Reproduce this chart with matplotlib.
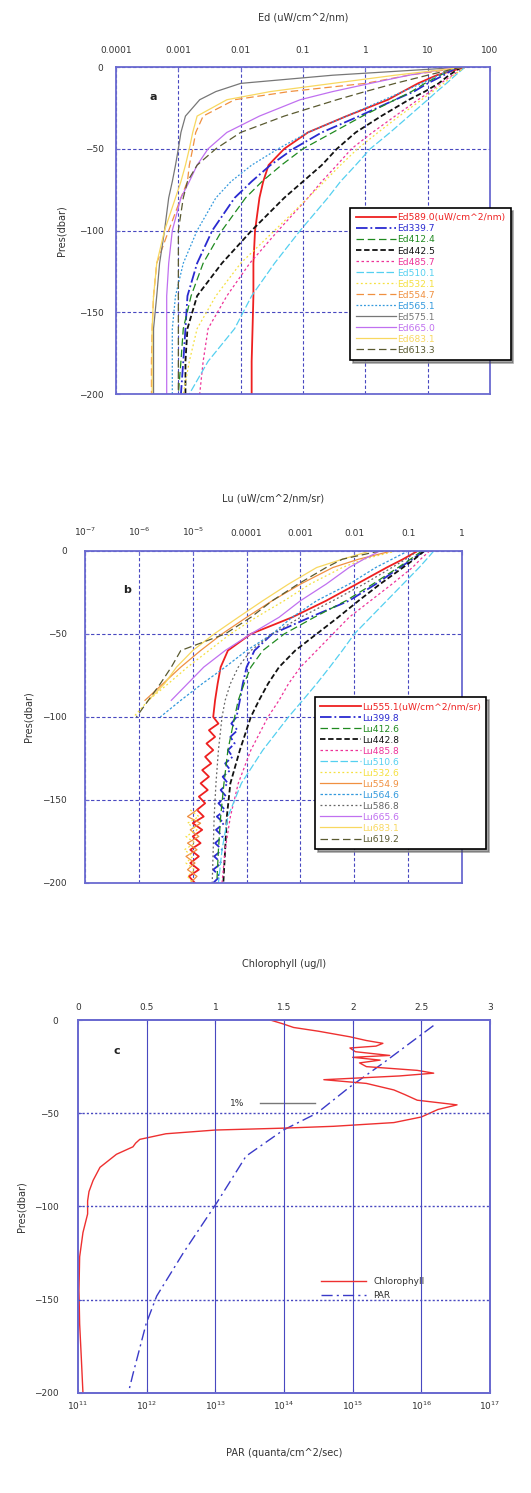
import numpy as np
import matplotlib
matplotlib.use("Agg")
import matplotlib.pyplot as plt
from matplotlib.ticker import FixedLocator, FixedFormatter, NullLocator

nan = np.nan

# ---------------- panel a : Ed profiles ----------------
ed_depth = [0, 5, 10, 15, 20, 30, 40, 50, 60, 70, 80, 100, 120, 140, 160, 180, 200]
ed_labels = ["Ed589.0(uW/cm^2/nm)", "Ed339.7", "Ed412.4", "Ed442.5", "Ed485.7",
             "Ed510.1", "Ed532.1", "Ed554.7", "Ed565.1", "Ed575.1",
             "Ed665.0", "Ed683.1", "Ed613.3"]
ed_589 = [40, 14, 7, 4, 2.3, 0.5, 0.12, 0.05, 0.028, 0.023, 0.02, 0.017, 0.016, 0.016, 0.0155, 0.015, 0.015]
ed_339 = [30, 18, 10, 6, 3, 0.8, 0.2, 0.07, 0.03, 0.015, 0.008, 0.0035, 0.002, 0.0014, 0.0013, 0.0012, 0.0011]
ed_412 = [28, 16, 9, 5.5, 3, 0.9, 0.3, 0.1, 0.045, 0.022, 0.012, 0.005, 0.0025, 0.0016, 0.0012, 0.0011, 0.001]
ed_442 = [35, 22, 15, 9, 5, 1.8, 0.7, 0.35, 0.2, 0.1, 0.05, 0.015, 0.005, 0.002, 0.0014, 0.0013, 0.0013]
ed_485 = [40, 25, 16, 11, 7, 3, 1.3, 0.6, 0.35, 0.2, 0.12, 0.04, 0.014, 0.006, 0.003, 0.0025, 0.0022]
ed_510 = [40, 28, 20, 14, 10, 5, 2.5, 1.2, 0.7, 0.4, 0.25, 0.09, 0.035, 0.015, 0.008, 0.003, 0.0015]
ed_532 = [40, 26, 18, 12, 8, 3.5, 1.6, 0.75, 0.4, 0.22, 0.12, 0.035, 0.01, 0.004, 0.002, 0.0015, 0.0012]
ed_554 = [40, 5, 1, 0.06, 0.008, 0.0025, 0.0019, 0.0017, 0.0015, 0.0014, 0.0011, 0.0007, 0.00045, 0.0004, 0.00038, 0.00037, 0.00037]
ed_565 = [30, 15, 8, 4, 2, 0.5, 0.12, 0.04, 0.015, 0.007, 0.004, 0.002, 0.0012, 0.0009, 0.0008, 0.0008, 0.0008]
ed_575 = [40, 0.3, 0.01, 0.004, 0.0022, 0.0013, 0.0011, 0.001, 0.0009, 0.0008, 0.0007, 0.0006, 0.0005, 0.00045, 0.0004, 0.0004, 0.0004]
ed_665 = [30, 5, 1.2, 0.3, 0.09, 0.02, 0.006, 0.003, 0.002, 0.0015, 0.0011, 0.0008, 0.0007, 0.00065, 0.00065, 0.00065, 0.00065]
ed_683 = [40, 3, 0.3, 0.03, 0.006, 0.002, 0.0017, 0.0015, 0.0013, 0.0011, 0.0009, 0.0006, 0.00045, 0.0004, 0.00038, 0.00038, 0.00038]
ed_613 = [35, 10, 3, 1, 0.35, 0.05, 0.01, 0.004, 0.002, 0.0014, 0.0012, 0.001, 0.001, 0.001, 0.001, 0.001, 0.001]

# ---------------- panel b : Lu profiles ----------------
lu_depth = [0, 5, 10, 20, 30, 40, 50, 60, 70, 80, 90, 100, 120, 140, 160, 180, 200]
lu_top_depth = [0, 5, 10, 20, 30, 40, 50, 60, 70, 80, 90]
lu_deep_depth = [100, 104, 108, 112, 116, 120, 124, 128, 132, 136, 140, 144, 148,
                 152, 156, 160, 164, 168, 172, 176, 180, 184, 188, 192, 196, 200]
lu_bottom_depth = [156, 160, 164, 168, 172, 176, 180, 184, 188, 192, 196, 200]
lu_labels = ["Lu555.1(uW/cm^2/nm/sr)", "Lu399.8", "Lu412.6", "Lu442.8", "Lu485.8",
             "Lu510.6", "Lu532.6", "Lu554.9", "Lu564.6", "Lu586.8",
             "Lu665.6", "Lu683.1", "Lu619.2"]
lu_555_top = [0.15, 0.08, 0.04, 0.011, 0.003, 0.0007, 0.00012, 4.5e-5, 3.3e-5, 2.9e-5, 2.6e-5]
lu_555_deep = [2.4e-5, 3.0e-5, 2.0e-5, 2.6e-5, 1.8e-5, 2.4e-5, 1.7e-5, 2.2e-5, 1.5e-5, 2.0e-5,
               1.4e-5, 1.9e-5, 1.3e-5, 1.7e-5, 1.2e-5, 1.6e-5, 1.0e-5, 1.5e-5, 1.0e-5, 1.4e-5,
               9e-6, 1.3e-5, 9e-6, 1.3e-5, 8.5e-6, 1.1e-5]
lu_399_top = [0.2, 0.12, 0.07, 0.025, 0.008, 0.0015, 0.0003, 0.00014, 0.0001, 8.5e-5, 7.5e-5]
lu_399_deep = [6.5e-5, 5.2e-5, 6.8e-5, 5.0e-5, 6.0e-5, 4.5e-5, 5.5e-5, 4.0e-5, 5.0e-5, 3.6e-5,
               4.5e-5, 3.3e-5, 4.2e-5, 3.0e-5, 4.0e-5, 2.8e-5, 3.8e-5, 2.7e-5, 3.6e-5, 2.6e-5,
               3.5e-5, 2.5e-5, 3.4e-5, 2.4e-5, 3.2e-5, 2.4e-5]
lu_412 = [0.18, 0.11, 0.065, 0.022, 0.007, 0.0018, 0.0005, 0.0002, 0.00012, 9e-5, 7e-5, 6e-5, 4.5e-5, 3.8e-5, 3.3e-5, 3e-5, 2.8e-5]
lu_442 = [0.2, 0.13, 0.08, 0.03, 0.012, 0.005, 0.002, 0.0008, 0.0004, 0.00025, 0.00017, 0.00012, 7.5e-5, 5e-5, 4.3e-5, 4e-5, 3.7e-5]
lu_485 = [0.25, 0.17, 0.12, 0.05, 0.02, 0.008, 0.004, 0.002, 0.001, 0.0006, 0.0004, 0.00025, 0.00012, 7e-5, 5e-5, 4e-5, 3.5e-5]
lu_510 = [0.3, 0.22, 0.16, 0.08, 0.04, 0.02, 0.01, 0.006, 0.0035, 0.002, 0.0011, 0.0006, 0.0002, 8e-5, 4.5e-5, 3.5e-5, 3e-5]
lu_532 = [0.06, 0.015, 0.006, 0.0015, 0.0005, 0.00015, 5e-5, 2e-5, 8e-6, 3.5e-6, 1.5e-6, 8e-7, nan, nan, nan, nan, nan]
lu_554 = [0.05, 0.012, 0.004, 0.001, 0.0003, 0.0001, 3.5e-5, 1.4e-5, 6e-6, 2.8e-6, 1.3e-6, nan, nan, nan, nan, nan, nan]
lu_564 = [0.1, 0.05, 0.025, 0.008, 0.002, 0.0007, 0.0003, 0.0001, 4e-5, 1.5e-5, 6e-6, 2.5e-6, nan, nan, nan, nan, nan]
lu_586 = [0.15, 0.09, 0.05, 0.015, 0.004, 0.001, 0.0003, 0.00012, 7e-5, 5e-5, 4e-5, 3.5e-5, 3e-5, 2.7e-5, 2.5e-5, 2.4e-5, 2.3e-5]
lu_665 = [0.03, 0.015, 0.008, 0.003, 0.001, 0.0004, 0.00012, 4e-5, 1.6e-5, 8e-6, 4e-6, nan, nan, nan, nan, nan, nan]
lu_683 = [0.02, 0.006, 0.002, 0.0006, 0.0002, 7e-5, 2.5e-5, 1e-5, 5e-6, 3e-6, 1.5e-6, nan, nan, nan, nan, nan, nan]
lu_619 = [0.03, 0.006, 0.003, 0.0009, 0.0003, 0.00012, 4e-5, 6e-6, 4e-6, 2.5e-6, 1.5e-6, 9e-7, nan, nan, nan, nan, nan]
lu_554_bottom = [1.2e-5, 8e-6, 1.4e-5, 9e-6, 1.3e-5, 8e-6, 1.2e-5, 7.5e-6, 1.1e-5, 8e-6, 1.2e-5, 9e-6]
lu_532_bottom = [9e-6, 1.3e-5, 8e-6, 1.2e-5, 7.5e-6, 1.1e-5, 7e-6, 1.0e-5, 7.5e-6, 1.1e-5, 8e-6, 1.0e-5]

# ---------------- panel c : chlorophyll and PAR ----------------
chl_depth = [0, 2, 4, 6, 9, 11, 12.5, 14, 15, 17, 19, 20, 21.5, 23, 25, 27, 28.5, 30, 32, 34,
             37.5, 40, 43, 45.5, 48, 52, 55, 57, 58, 59, 61, 64, 66, 68, 72, 79, 86, 92, 97,
             104, 114, 127, 145, 163, 181, 200]
chl = [1.40, 1.49, 1.57, 1.75, 1.98, 2.10, 2.22, 2.17, 1.98, 2.02, 2.27, 2.00, 2.20, 2.05, 2.10,
       2.47, 2.59, 2.34, 1.79, 2.10, 2.30, 2.38, 2.47, 2.76, 2.62, 2.50, 2.30, 1.86, 1.49, 1.00,
       0.64, 0.45, 0.42, 0.40, 0.28, 0.16, 0.11, 0.08, 0.07, 0.07, 0.036, 0.012, 0.007, 0.012,
       0.024, 0.036]
par_depth = [3, 23, 36, 50, 59, 73, 98, 125, 148, 163, 190, 200]
par = [1.5e16, 2.8e15, 9e14, 3e14, 9.8e13, 2.8e13, 1.05e13, 3.4e12, 1.4e12, 9.8e11, 6.3e11, 5.4e11]

frame_col = "#6a6ad0"
grid_col = "#4848c0"
text_col = "#333333"

a_colors = ["#ee2020", "#2a2ad0", "#1f8a1f", "#111111", "#ee3399", "#55d0f0", "#f5e040",
            "#f09040", "#3399dd", "#777777", "#c070f0", "#f8d860", "#5a5a30"]
a_styles = ["-", "-.", (0, (6, 3)), (0, (3, 1.5)), (0, (2, 2)), (0, (6, 2)), (0, (1.5, 2)),
            (0, (6, 3)), (0, (1.5, 1.5)), "-", "-", "-", (0, (6, 3))]


def style_axes(ax, ypad, ylabpad):
    for sp in ax.spines.values():
        sp.set_color(frame_col)
        sp.set_linewidth(1.3)
    ax.grid(True, which="major", color=grid_col, linestyle=(0, (3, 2)), linewidth=0.8)
    ax.tick_params(which="both", colors=frame_col, labelcolor=text_col, labelsize=6.5,
                   direction="in", length=3)
    ax.tick_params(axis="x", pad=9)
    ax.tick_params(axis="y", pad=ypad)
    ax.set_ylim(-200, 0)
    ax.set_yticks([0, -50, -100, -150, -200])
    ax.set_ylabel("Pres(dbar)", fontsize=7, color=text_col, labelpad=ylabpad)


def make_legend(ax, anchor, labels_colors):
    leg = ax.legend(loc="upper left", bbox_to_anchor=anchor, fontsize=6.6, frameon=True,
                    fancybox=False, shadow=True, handlelength=4.4, handletextpad=0.1,
                    labelspacing=0.22, borderpad=0.6, borderaxespad=0)
    leg.get_frame().set_edgecolor("black")
    leg.get_frame().set_linewidth(1.2)
    for t, c in zip(leg.get_texts(), labels_colors):
        t.set_color(c)
    return leg


fig = plt.figure(figsize=(5.31, 14.93), dpi=100)

# panel a
ax1 = fig.add_axes([0.2185, 0.7361, 0.7043, 0.2190])
ed_series = [ed_589, ed_339, ed_412, ed_442, ed_485, ed_510, ed_532, ed_554,
             ed_565, ed_575, ed_665, ed_683, ed_613]
for vals, lab, c, ls in zip(ed_series, ed_labels, a_colors, a_styles):
    lw = 1.3 if c in ("#ee2020", "#2a2ad0", "#111111") else 0.9
    ax1.plot(vals, -np.array(ed_depth), color=c, linestyle=ls, linewidth=lw, label=lab)
ax1.set_xscale("log")
ax1.set_xlim(1e-4, 100)
ax1.xaxis.tick_top()
ax1.xaxis.set_label_position("top")
ax1.xaxis.set_major_locator(FixedLocator([1e-4, 1e-3, 1e-2, 0.1, 1, 10, 100]))
ax1.xaxis.set_major_formatter(FixedFormatter(["0.0001", "0.001", "0.01", "0.1", "1", "10", "100"]))
ax1.xaxis.set_minor_locator(NullLocator())
style_axes(ax1, 9, 9)
ax1.set_xlabel("Ed (uW/cm^2/nm)", fontsize=7, color=text_col, labelpad=18)
ax1.text(0.09, 0.9, "a", transform=ax1.transAxes, fontsize=8, fontweight="bold", color="#222222")
make_legend(ax1, (0.626, 0.569), a_colors)

# panel b
ax2 = fig.add_axes([0.1601, 0.4086, 0.7100, 0.2224])
lu_lines = [
    (lu_top_depth + lu_deep_depth, lu_555_top + lu_555_deep),
    (lu_top_depth + lu_deep_depth, lu_399_top + lu_399_deep),
    (lu_depth, lu_412), (lu_depth, lu_442), (lu_depth, lu_485), (lu_depth, lu_510),
    (lu_depth, lu_532), (lu_depth, lu_554), (lu_depth, lu_564), (lu_depth, lu_586),
    (lu_depth, lu_665), (lu_depth, lu_683), (lu_depth, lu_619),
]
b_styles = ["-", "-.", (0, (6, 3)), (0, (3, 1.5)), (0, (2, 2)), (0, (6, 2)), (0, (1.5, 2)),
            "-", (0, (2, 1.5)), (0, (1.5, 2)), "-", "-", (0, (6, 3))]
b_colors = ["#ee2020", "#2a2ad0", "#1f8a1f", "#111111", "#ee3399", "#55d0f0", "#f5e040",
            "#f09040", "#3399dd", "#666666", "#c070f0", "#f8d860", "#5a5a30"]
for (d, vals), lab, c, ls in zip(lu_lines, lu_labels, b_colors, b_styles):
    lw = 1.3 if c in ("#ee2020", "#2a2ad0", "#111111") else 0.9
    ax2.plot(vals, -np.array(d), color=c, linestyle=ls, linewidth=lw, label=lab)
ax2.plot(lu_554_bottom, -np.array(lu_bottom_depth), color="#f09040", linewidth=0.9)
ax2.plot(lu_532_bottom, -np.array(lu_bottom_depth), color="#f5e040", linewidth=0.9,
         linestyle=(0, (1.5, 2)))
ax2.set_xscale("log")
ax2.set_xlim(1e-7, 1)
ax2.xaxis.tick_top()
ax2.xaxis.set_label_position("top")
ax2.xaxis.set_major_locator(FixedLocator([1e-7, 1e-6, 1e-5, 1e-4, 1e-3, 1e-2, 0.1, 1]))
ax2.xaxis.set_major_formatter(FixedFormatter(["$10^{-7}$", "$10^{-6}$", "$10^{-5}$", "0.0001",
                                              "0.001", "0.01", "0.1", "1"]))
ax2.xaxis.set_minor_locator(NullLocator())
style_axes(ax2, 13, 6)
ax2.set_xlabel("Lu (uW/cm^2/nm/sr)", fontsize=7, color=text_col, labelpad=18)
ax2.text(0.10, 0.873, "b", transform=ax2.transAxes, fontsize=8, fontweight="bold", color="#222222")
make_legend(ax2, (0.61, 0.56), b_colors)

# panel c
ax3 = fig.add_axes([0.1469, 0.0670, 0.7759, 0.2498])
ax3.plot(par, -np.array(par_depth), color="#3a3ac8", linestyle=(0, (8, 3, 1.5, 3)),
         linewidth=1.0, label="PAR")
ax3.set_xscale("log")
ax3.set_xlim(1e11, 1e17)
ax3.xaxis.set_major_locator(FixedLocator([1e11, 1e12, 1e13, 1e14, 1e15, 1e16, 1e17]))
ax3.xaxis.set_minor_locator(NullLocator())
style_axes(ax3, 14, 5)
ax3.tick_params(axis="x", pad=5)
ax3.grid(False)
ax3.set_xlabel("PAR (quanta/cm^2/sec)", fontsize=7, color=text_col, labelpad=26)
ax3.plot([4.5e13, 2.8e14], [-44.7, -44.7], color="#777777", linewidth=1.0)
ax3.text(2.6e13, -44.7, "1%", fontsize=6.5, color=text_col, ha="right", va="center")

ax4 = ax3.twiny()
ax4.plot(chl, -np.array(chl_depth), color="#ee3030", linewidth=1.0, label="Chlorophyll")
ax4.set_xlim(0, 3)
ax4.set_xticks([0, 0.5, 1, 1.5, 2, 2.5, 3])
ax4.set_xticklabels(["0", "0.5", "1", "1.5", "2", "2.5", "3"])
for sp in ax4.spines.values():
    sp.set_color(frame_col)
    sp.set_linewidth(1.3)
ax4.tick_params(colors=frame_col, labelcolor=text_col, labelsize=6.5, direction="in",
                length=3, pad=6)
ax4.set_xlabel("Chlorophyll (ug/l)", fontsize=7, color=text_col, labelpad=26)
# grid: solid verticals, dotted horizontals
for xv in [0.5, 1, 1.5, 2, 2.5]:
    ax4.axvline(xv, color=grid_col, linewidth=0.8)
for yv in [-50, -100, -150]:
    ax4.axhline(yv, color=grid_col, linewidth=1.0, linestyle=(0, (1.5, 1.5)))
ax4.text(0.085, 0.91, "c", transform=ax4.transAxes, fontsize=8, fontweight="bold", color="#222222")

h1, l1 = ax4.get_legend_handles_labels()
h2, l2 = ax3.get_legend_handles_labels()
leg = ax4.legend(h1 + h2, l1 + l2, loc="center left", bbox_to_anchor=(0.57, 0.28),
                 frameon=False, fontsize=6.5, handlelength=5, handletextpad=0.8,
                 labelspacing=0.6)
for t in leg.get_texts():
    t.set_color(text_col)

fig.savefig("out.png", dpi=100)
